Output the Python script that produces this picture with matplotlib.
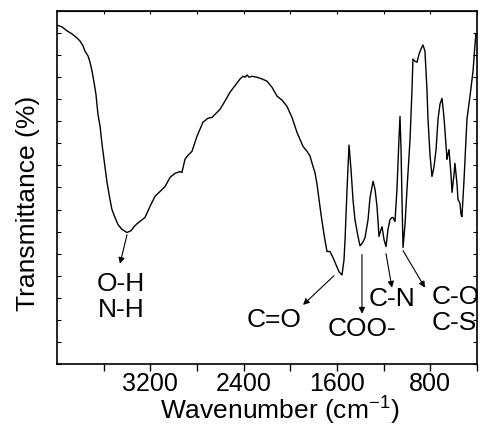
import matplotlib.pyplot as plt

plt.rcParams['font.family'] = ['Liberation Sans', 'DejaVu Sans']
plt.rcParams['mathtext.default'] = 'regular'

# FTIR spectrum
wavenumber = [4000, 3957, 3914, 3871, 3829, 3803, 3777, 3760, 3734, 3717,
              3700, 3683, 3666, 3649, 3631, 3614, 3597, 3571, 3546, 3529,
              3503, 3477, 3443, 3400, 3366, 3340, 3314, 3280, 3246, 3203,
              3160, 3117, 3074, 3031, 2989, 2946, 2929, 2903, 2877, 2843,
              2800, 2749, 2706, 2671, 2637, 2603, 2560, 2517, 2466, 2431,
              2406, 2389, 2371, 2354, 2329, 2286, 2243, 2200, 2157, 2114,
              2071, 2029, 1986, 1943, 1917, 1891, 1857, 1831, 1806, 1789,
              1771, 1754, 1737, 1711, 1686, 1660, 1634, 1609, 1583, 1557,
              1540, 1531, 1514, 1497, 1480, 1463, 1446, 1420, 1403, 1386,
              1377, 1360, 1334, 1317, 1291, 1274, 1257, 1240, 1223, 1214,
              1197, 1180, 1163, 1146, 1129, 1120, 1103, 1086, 1069, 1060,
              1051, 1043, 1034, 1017, 1000, 974, 957, 949, 931, 914,
              897, 880, 863, 846, 829, 820, 803, 786, 769, 751,
              734, 717, 700, 683, 666, 657, 649, 640, 623, 614,
              597, 589, 571, 563, 546, 537, 529, 511, 486, 460,
              434, 417, 409, 400]
transmittance = [76.8, 76.4, 75.5, 74.8, 73.9, 73.2, 72.1, 70.9, 69.8, 68.4,
                 66.4, 63.9, 61.1, 56.6, 53.9, 49.8, 46.4, 41.1, 37.3, 35.0,
                 33.2, 31.6, 30.5, 29.8, 30.2, 31.1, 31.8, 32.5, 33.2, 35.7,
                 38.0, 39.1, 40.2, 42.3, 43.2, 43.6, 43.4, 46.4, 47.3, 48.2,
                 51.6, 54.8, 55.7, 55.9, 56.8, 57.7, 59.6, 61.6, 63.4, 64.6,
                 65.2, 65.0, 65.5, 65.0, 65.2, 65.0, 64.6, 64.1, 62.7, 60.7,
                 59.8, 58.4, 55.9, 52.5, 50.9, 49.3, 48.2, 47.1, 44.8, 43.4,
                 40.7, 37.3, 33.9, 29.3, 25.5, 25.5, 24.1, 22.5, 20.9, 20.2,
                 23.6, 28.2, 39.6, 49.6, 44.1, 37.3, 32.7, 28.9, 26.8, 27.3,
                 27.7, 28.6, 32.7, 37.7, 41.4, 39.6, 35.7, 28.9, 30.5, 31.1,
                 28.2, 26.6, 30.5, 32.7, 33.2, 33.2, 32.3, 39.6, 50.9, 56.1,
                 48.6, 37.3, 26.4, 31.6, 39.6, 50.9, 62.3, 69.1, 68.6, 68.4,
                 70.2, 71.4, 72.3, 70.9, 62.3, 55.5, 47.5, 42.5, 44.6, 48.6,
                 55.5, 58.9, 60.2, 55.9, 49.8, 46.4, 47.5, 48.6, 43.0, 38.9,
                 43.0, 45.5, 40.7, 37.3, 36.4, 33.9, 33.4, 41.8, 55.5, 60.7,
                 66.4, 72.5, 74.8, 74.3]

major_ticks = [3200, 2400, 1600, 800]
minor_ticks = [3600, 2800, 2000, 1200, 400]

# label, arrow tail, arrow head, text position, text alignment
bands = [
    ('O-H\nN-H', (3400, 29.3), (3460, 22.7), (3451, 15.2), 'center'),
    ('C=O', (1626, 20.0), (1891, 13.4), (2140, 10.0), 'center'),
    ('COO-', (1386, 24.8), (1386, 11.4), (1386, 8.0), 'center'),
    ('C-N', (1180, 25.0), (1129, 17.3), (1129, 14.8), 'center'),
    ('C-O\nC-S', (1034, 25.7), (846, 17.3), (786, 12.3), 'left'),
]

fig = plt.figure(figsize=(4.8, 4.28), dpi=100)
ax = fig.add_axes([57/480, 64/428, 420/480, 353/428])

ax.plot(wavenumber, transmittance, color='black', lw=1.0)
ax.set_xlim(4000, 400)
ax.set_ylim(0, 80)

for text, tail, head, pos, ha in bands:
    ax.annotate('', xy=head, xytext=tail,
                arrowprops=dict(arrowstyle='-|>', color='black', lw=0.8,
                                mutation_scale=9, shrinkA=0, shrinkB=0))
    ax.text(pos[0], pos[1], text, fontsize=19, ha=ha, va='center',
            linespacing=1.1)

ax.set_xticks(major_ticks)
ax.set_xticks(minor_ticks, minor=True)
ax.set_yticks(range(0, 81, 5))
ax.tick_params(axis='x', which='both', direction='out', length=5, width=1,
               labelsize=18, pad=1)
ax.tick_params(axis='y', which='both', direction='in', length=3, width=0.8,
               left=True, right=True, labelleft=False)

top = ax.secondary_xaxis('top')
top.set_xticks(major_ticks + minor_ticks)
top.tick_params(direction='in', length=2, labeltop=False)

for s in ax.spines.values():
    s.set_linewidth(1.2)

fig.text(28/480, 1 - 203/428, 'Transmittance (%)', rotation=90,
         ha='center', va='center', fontsize=19)
fig.text(280/480, 1 - 411/428, 'Wavenumber (cm$^{-1}$)',
         ha='center', va='center', fontsize=19)

fig.savefig('out.png', dpi=100)
